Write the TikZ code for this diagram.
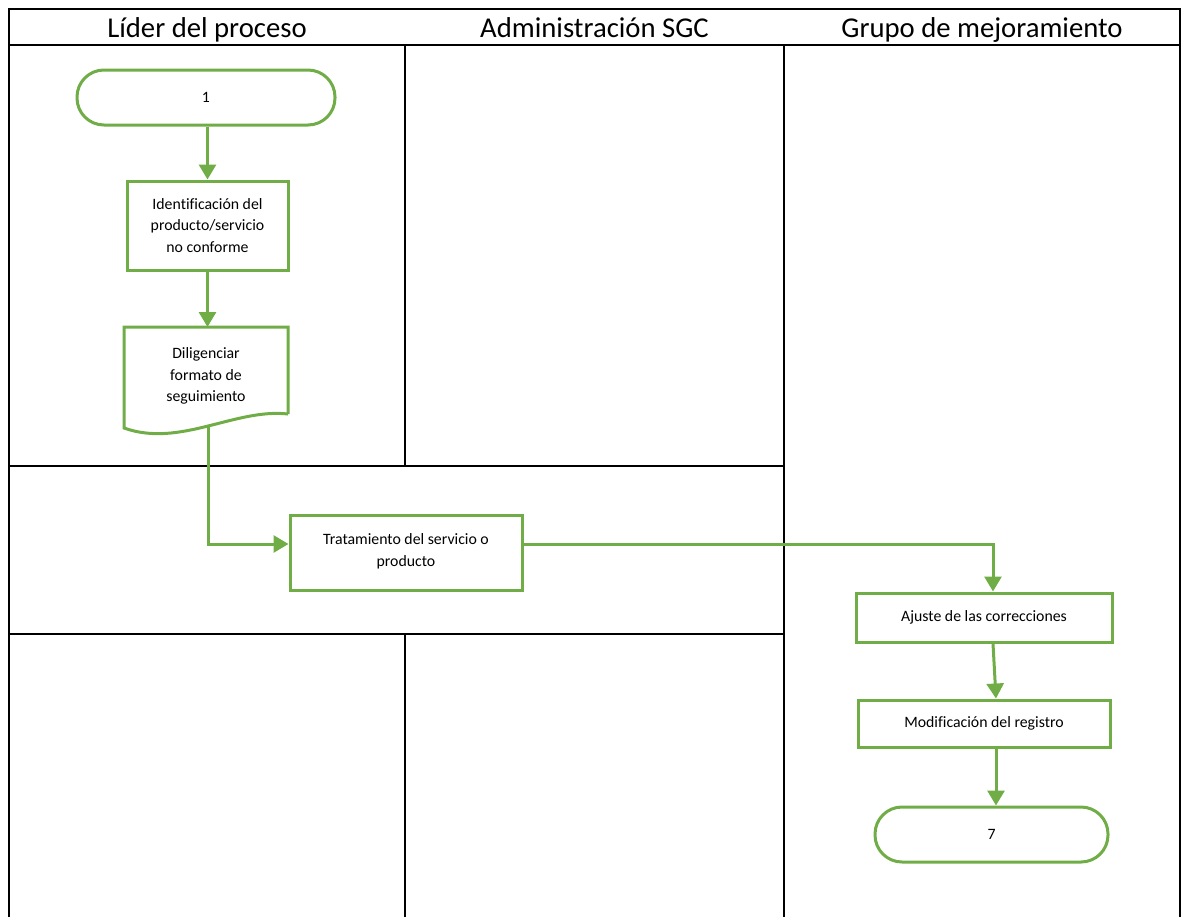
\documentclass[tikz,border=0pt]{standalone}
\usepackage{fontspec}
\setmainfont{Carlito}[Ligatures=NoCommon]
\usetikzlibrary{arrows.meta}
\definecolor{flowgreen}{HTML}{70AD47}
\begin{document}
\begin{tikzpicture}[x=1pt,y=-1pt,
  lane/.style={line width=2.3pt,black},
  head/.style={font=\fontsize{28.7}{34}\selectfont,anchor=base},
  box/.style={draw=flowgreen,line width=3pt,fill=white,align=center,
    font=\fontsize{15.8}{21.5}\selectfont,inner sep=0pt},
  term/.style={box,rounded corners=27pt},
  flow/.style={draw=flowgreen,line width=3pt,-{Triangle[length=15pt,width=17pt]}},
  link/.style={draw=flowgreen,line width=3pt}]
\useasboundingbox (0,0) rectangle (1182,916);

% swimlane grid
\draw[lane] (9,920) -- (9,9) -- (1180,9) -- (1180,920);
\draw[lane] (9,45) -- (1180,45);
\draw[lane] (405,45) -- (405,466);
\draw[lane] (405,634) -- (405,920);
\draw[lane] (784,45) -- (784,920);
\draw[lane] (9,466) -- (784,466);
\draw[lane] (9,634) -- (784,634);

% lane titles
\node[head] (h1) at (207,37) {Líder del proceso};
\node[head] (h2) at (594.5,37) {Administración SGC};
\node[head] (h3) at (982,37) {Grupo de mejoramiento};

% process steps
\node[term,minimum width=258pt,minimum height=55pt] (t1) at (206,97.5) {1};
\node[box,minimum width=161pt,minimum height=89pt] (id) at (207.5,225.5)
  {Identificación del\\producto/servicio\\no conforme};
\node[inner sep=0pt,minimum width=164pt,minimum height=101pt,align=center,
  font=\fontsize{15.8}{21.5}\selectfont] (doc) at (206,376)
  {Diligenciar\\formato de\\seguimiento};
\draw[draw=flowgreen,line width=3pt,line join=miter]
  (288,414) -- (288,327) -- (124,327) -- (124,428)
  .. controls (180,448) and (235,408) .. (288,414);
\coordinate (docout) at (208,427);
\node[box,minimum width=232pt,minimum height=75pt] (tr) at (406,552.5)
  {Tratamiento del servicio o\\producto\rule[-5pt]{0pt}{5pt}};
\node[box,minimum width=256pt,minimum height=49pt] (aj) at (984,617.5)
  {Ajuste de las correcciones};
\node[box,minimum width=252pt,minimum height=47pt] (mod) at (984,723.5)
  {Modificación del registro};
\node[term,minimum width=233pt,minimum height=55pt] (t7) at (991.5,834.5) {7};

% connectors
\draw[flow] (id.north |- t1.south) -- (id.north);
\draw[flow] (id.south) -- (id.south |- 327,327);
\draw[flow] (docout) |- ([yshift=8.5pt]tr.west);
\draw[flow] ([yshift=8.5pt]tr.east) -| ([xshift=9pt]aj.north);
\draw[flow] ([xshift=9pt]aj.south) -- ([xshift=12pt]mod.north);
\draw[flow] ([xshift=12pt]mod.south) -- ([xshift=4.5pt]t7.north);
\end{tikzpicture}
\end{document}
